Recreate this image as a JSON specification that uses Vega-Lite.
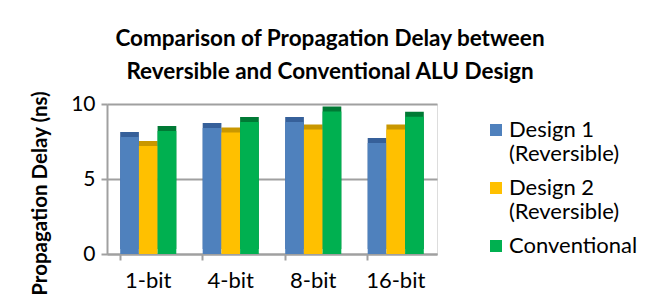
{
  "$schema": "https://vega.github.io/schema/vega-lite/v6.json",
  "autosize": "none",
  "width": 330,
  "height": 150,
  "padding": {"left": 107, "top": 104, "right": 228, "bottom": 54},
  "background": "white",
  "title": {
    "text": ["Comparison of Propagation Delay between", "Reversible and Conventional ALU Design"],
    "font": "Lato",
    "fontSize": 22.5,
    "fontWeight": "bold",
    "color": "#000000",
    "anchor": "middle",
    "dx": 58,
    "offset": 7,
    "lineHeight": 33
  },
  "data": {
    "values": [
      {"category": "1-bit", "series": "Design 1 (Reversible)", "value": 7.8},
      {"category": "1-bit", "series": "Design 2 (Reversible)", "value": 7.2},
      {"category": "1-bit", "series": "Conventional", "value": 8.2},
      {"category": "4-bit", "series": "Design 1 (Reversible)", "value": 8.4},
      {"category": "4-bit", "series": "Design 2 (Reversible)", "value": 8.1},
      {"category": "4-bit", "series": "Conventional", "value": 8.8},
      {"category": "8-bit", "series": "Design 1 (Reversible)", "value": 8.8},
      {"category": "8-bit", "series": "Design 2 (Reversible)", "value": 8.3},
      {"category": "8-bit", "series": "Conventional", "value": 9.5},
      {"category": "16-bit", "series": "Design 1 (Reversible)", "value": 7.4},
      {"category": "16-bit", "series": "Design 2 (Reversible)", "value": 8.3},
      {"category": "16-bit", "series": "Conventional", "value": 9.15}
    ]
  },
  "encoding": {
    "x": {
      "field": "category",
      "type": "nominal",
      "sort": ["1-bit", "4-bit", "8-bit", "16-bit"],
      "scale": {"paddingInner": 0.32, "paddingOuter": 0.16},
      "axis": {
        "title": null,
        "labelAngle": 0,
        "labelFont": "Lato",
        "labelFontSize": 22,
        "labelColor": "#000000",
        "labelPadding": 10,
        "domainColor": "#a0a0a0",
        "domainWidth": 2,
        "tickColor": "#a0a0a0",
        "tickWidth": 2,
        "tickSize": 6,
        "bandPosition": 0,
        "grid": false
      }
    },
    "xOffset": {
      "field": "series",
      "type": "nominal",
      "sort": ["Design 1 (Reversible)", "Design 2 (Reversible)", "Conventional"]
    },
    "y": {
      "field": "value",
      "type": "quantitative",
      "scale": {"domain": [0, 10]},
      "axis": {
        "title": "Propagation Delay (ns)",
        "titleFont": "Lato",
        "titleFontSize": 20.5,
        "titleFontWeight": "bold",
        "titleColor": "#000000",
        "titlePadding": 20,
        "titleY": 89,
        "values": [0, 5, 10],
        "labelFont": "Lato",
        "labelFontSize": 21,
        "labelColor": "#000000",
        "labelPadding": 6,
        "domainColor": "#a0a0a0",
        "domainWidth": 2,
        "tickColor": "#a0a0a0",
        "tickWidth": 2,
        "tickSize": 6,
        "grid": true,
        "gridColor": "#a0a0a0",
        "gridWidth": 2
      }
    }
  },
  "resolve": {"legend": {"color": "independent", "fill": "independent"}},
  "layer": [
    {
      "mark": {"type": "bar", "xOffset": 5, "yOffset": -5},
      "encoding": {
        "fill": {
          "field": "series",
          "type": "nominal",
          "scale": {
            "domain": ["Design 1 (Reversible)", "Design 2 (Reversible)", "Conventional"],
            "range": ["#36609a", "#c99700", "#007a35"]
          },
          "legend": null
        }
      }
    },
    {
      "mark": {"type": "bar"},
      "encoding": {
        "color": {
          "field": "series",
          "type": "nominal",
          "scale": {
            "domain": ["Design 1 (Reversible)", "Design 2 (Reversible)", "Conventional"],
            "range": ["#4f81bd", "#ffc000", "#00b050"]
          },
          "legend": {
            "title": null,
            "orient": "right",
            "offset": 33,
            "padding": 15,
            "symbolType": "square",
            "symbolSize": 144,
            "symbolStrokeWidth": 0,
            "labelFont": "Lato",
            "labelFontSize": 22,
            "labelColor": "#000000",
            "labelLimit": 200,
            "labelOffset": 2,
            "rowPadding": 12,
            "labelExpr": "datum.label == 'Conventional' ? datum.label : [slice(datum.label, 0, 8), slice(datum.label, 9)]"
          }
        }
      }
    }
  ]
}
